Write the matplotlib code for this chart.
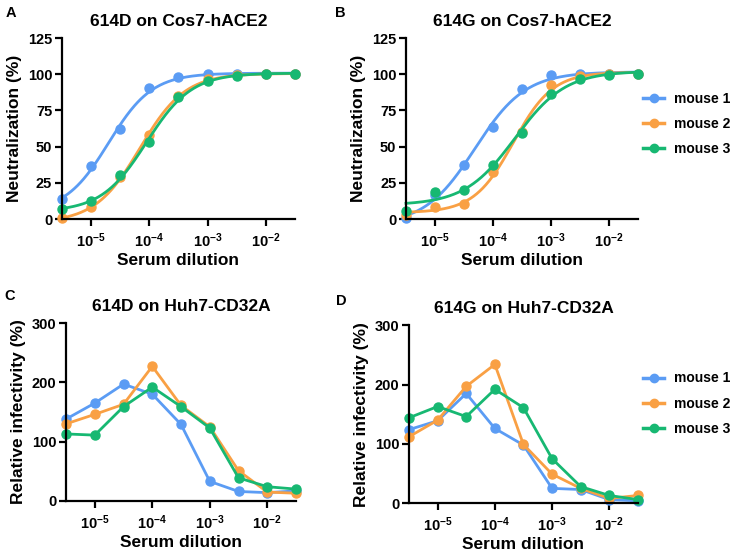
import numpy as np
import matplotlib
matplotlib.use('Agg')
import matplotlib.pyplot as plt
from matplotlib.lines import Line2D

plt.rcParams['font.family'] = ['Liberation Sans', 'DejaVu Sans']
plt.rcParams['font.weight'] = 'bold'
plt.rcParams['axes.labelweight'] = 'bold'
plt.rcParams['axes.titleweight'] = 'bold'
plt.rcParams['mathtext.fontset'] = 'custom'
plt.rcParams['mathtext.rm'] = 'Liberation Sans:bold'
plt.rcParams['mathtext.bf'] = 'Liberation Sans:bold'

# serum dilutions (half-log steps)
dilution = [3.16e-6, 1e-5, 3.16e-5, 1e-4, 3.16e-4, 1e-3, 3.16e-3, 1e-2, 3.16e-2]
mice = ['mouse 1', 'mouse 2', 'mouse 3']
colors = ['#5b9cf4', '#f9a044', '#17b872']

# A: 614D on Cos7-hACE2, neutralization (%)
neut_614D = [
    [13.6, 36.7, 62.3, 90.2, 98.2, 99.9, 100, 100, 100],
    [0.7, 8.0, 28.8, 58.3, 85.0, 96.5, 99.3, 100, 100],
    [6.9, 12.2, 30.4, 53.0, 84.0, 95.5, 99.0, 100, 100],
]
# B: 614G on Cos7-hACE2
neut_614G = [
    [0.5, 16.6, 37.4, 63.9, 89.7, 99.4, 99.9, 100, 100],
    [2.8, 8.5, 10.4, 32.3, 60.0, 92.3, 99.0, 100, 100],
    [5.8, 18.9, 20.3, 37.4, 59.7, 86.5, 97.0, 99.5, 100],
]
# C: 614D on Huh7-CD32A, relative infectivity (%)
inf_614D = [
    [138, 165, 197, 180, 129, 33, 16, 14, 17],
    [130, 146, 163, 227, 161, 125, 51, 15, 13],
    [113, 111, 159, 192, 159, 123, 39, 24, 20],
]
# D: 614G on Huh7-CD32A
inf_614G = [
    [124, 139, 185, 126, 98, 25, 23, 6, 4],
    [112, 140, 197, 234, 99, 49, 25, 8, 13],
    [144, 163, 146, 192, 161, 75, 28, 13, 6],
]

xtick_vals = [1e-5, 1e-4, 1e-3, 1e-2]
xtick_labels = [r'$\mathbf{10^{-5}}$', r'$\mathbf{10^{-4}}$', r'$\mathbf{10^{-3}}$', r'$\mathbf{10^{-2}}$']


def fit4pl(x, y):
    # grid search on logEC50 / hill, linear least squares for bottom / top
    lx = np.log10(np.array(x))
    y = np.array(y, dtype=float)
    E, H = np.meshgrid(np.arange(-6.5, -1.5, 0.01), np.arange(0.3, 3.0, 0.02), indexing='ij')
    s = 1.0 / (1.0 + 10 ** ((E[..., None] - lx) * H[..., None]))
    u = 1 - s
    a = (u * u).sum(-1); b = (u * s).sum(-1); c = (s * s).sum(-1)
    d1 = (u * y).sum(-1); d2 = (s * y).sum(-1)
    det = a * c - b * b
    det[np.abs(det) < 1e-9] = np.nan
    bot = (c * d1 - b * d2) / det
    top = (a * d2 - b * d1) / det
    pred = bot[..., None] * u + top[..., None] * s
    res = np.nansum((pred - y) ** 2, -1)
    res[np.isnan(det)] = np.inf
    i = np.unravel_index(np.argmin(res), res.shape)
    return bot[i], top[i], E[i], H[i]


def style(ax, yticks, ylabel, title):
    ax.set_xscale('log')
    ax.set_xlim(dilution[0], dilution[-1])
    ax.set_xticks(xtick_vals)
    ax.set_xticklabels(xtick_labels)
    ax.minorticks_off()
    ax.set_ylim(yticks[0], yticks[-1])
    ax.set_yticks(yticks)
    for sp in ['top', 'right']:
        ax.spines[sp].set_visible(False)
    for sp in ['left', 'bottom']:
        ax.spines[sp].set_linewidth(1.6)
    ax.tick_params(direction='out', length=5, width=1.6, labelsize=10.5, pad=2)
    ax.tick_params(axis='x', pad=4)
    ax.set_xlabel('Serum dilution', fontsize=12.5, labelpad=2)
    ax.set_ylabel(ylabel, fontsize=12.5)
    ax.set_title(title, fontsize=12.5, pad=9)


fig = plt.figure(figsize=(7.36, 5.56), dpi=100)
axA = fig.add_axes([0.0842, 0.606, 0.3166, 0.3255])
axB = fig.add_axes([0.5516, 0.606, 0.3152, 0.3255])
axC = fig.add_axes([0.0897, 0.099, 0.3125, 0.320])
axD = fig.add_axes([0.5557, 0.095, 0.311, 0.320])

xx = np.logspace(np.log10(dilution[0]), np.log10(dilution[-1]), 300)
for ax, data in [(axA, neut_614D), (axB, neut_614G)]:
    for vals, col in zip(data, colors):
        bot, top, ec, h = fit4pl(dilution, vals)
        yy = bot + (top - bot) / (1 + 10 ** ((ec - np.log10(xx)) * h))
        ax.plot(xx, yy, color=col, lw=2, clip_on=False)
        ax.plot(dilution, vals, 'o', color=col, ms=6.5, clip_on=False)

for ax, data in [(axC, inf_614D), (axD, inf_614G)]:
    for vals, col in zip(data, colors):
        ax.plot(dilution, vals, '-o', color=col, lw=2, ms=6.5, clip_on=False)

style(axA, [0, 25, 50, 75, 100, 125], 'Neutralization (%)', '614D on Cos7-hACE2')
style(axB, [0, 25, 50, 75, 100, 125], 'Neutralization (%)', '614G on Cos7-hACE2')
style(axC, [0, 100, 200, 300], 'Relative infectivity (%)', '614D on Huh7-CD32A')
style(axD, [0, 100, 200, 300], 'Relative infectivity (%)', '614G on Huh7-CD32A')

handles = [Line2D([], [], color=c, lw=2.5, marker='o', ms=6) for c in colors]
for ytop in [0.835, 0.332]:
    fig.legend(handles, mice, loc='upper left', bbox_to_anchor=(0.874, ytop),
               frameon=False, fontsize=10, handlelength=1.5, handletextpad=0.7,
               labelspacing=0.8, borderpad=0, borderaxespad=0)

for lab, x, y in [('A', 0.008, 0.99), ('B', 0.455, 0.99), ('C', 0.006, 0.48), ('D', 0.456, 0.472)]:
    fig.text(x, y, lab, fontsize=10.5, fontweight='bold', va='top')

fig.savefig('out.png', dpi=100)
